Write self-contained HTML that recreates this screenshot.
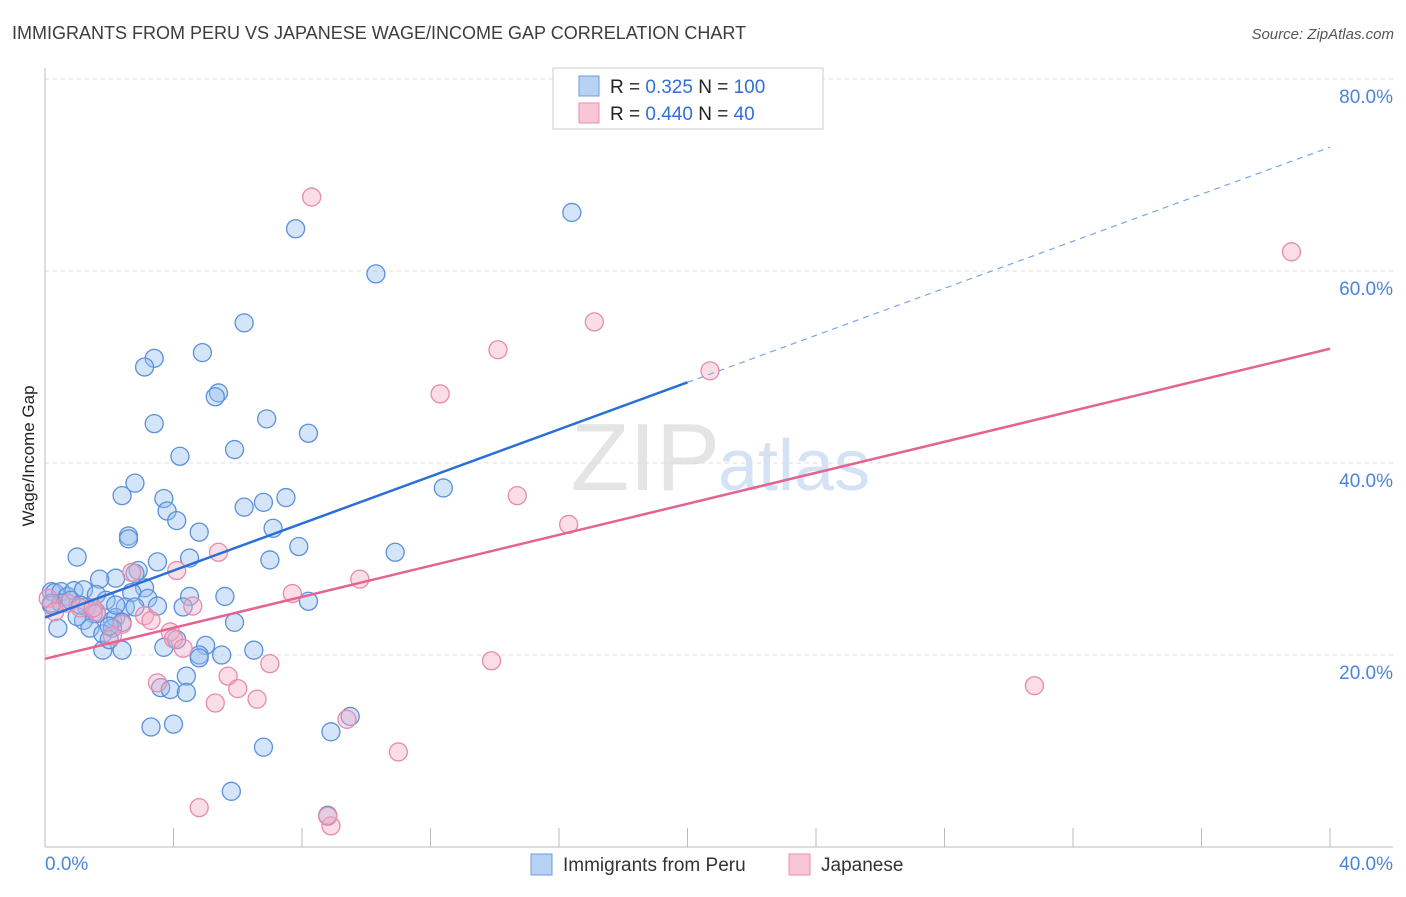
<!DOCTYPE html>
<html><head><meta charset="utf-8"><style>
body{margin:0;background:#fff;font-family:"Liberation Sans",sans-serif;}
svg text{font-family:"Liberation Sans",sans-serif;}
</style></head><body>
<svg id="chart" width="1406" height="892" viewBox="0 0 1406 892">
<text x="12" y="39" font-size="18" fill="#3c3c3c">IMMIGRANTS FROM PERU VS JAPANESE WAGE/INCOME GAP CORRELATION CHART</text>
<text x="1394" y="39" font-size="15" fill="#555" text-anchor="end" font-style="italic">Source: ZipAtlas.com</text>
<text x="720" y="490" font-size="96" fill="#e4e4e4" text-anchor="end" font-family="Liberation Serif">ZIP</text>
<text x="718" y="490" font-size="72" fill="#d3e2f4">atlas</text>
<g id="grid"></g><g id="axes"></g><g id="pts"></g><g id="lines"></g>
<text transform="translate(34,456) rotate(-90)" font-size="17" fill="#222" text-anchor="middle">Wage/Income Gap</text>
<g>
<rect x="553" y="68" width="270" height="61" fill="#fff" stroke="#ccc"/>
<rect x="579" y="76" width="20" height="20" fill="#b8d2f4" stroke="#6a9be0"/>
<rect x="579" y="103" width="20" height="20" fill="#f8c6d6" stroke="#e890b0"/>
<text x="610" y="93" font-size="19" fill="#222">R = <tspan fill="#2f6fd6">0.325</tspan>   N = <tspan fill="#2f6fd6">100</tspan></text>
<text x="610" y="120" font-size="19" fill="#222">R = <tspan fill="#2f6fd6">0.440</tspan>   N = <tspan fill="#2f6fd6">  40</tspan></text>
</g>
<g>
<rect x="531" y="854" width="21" height="21" fill="#b8d2f4" stroke="#6a9be0"/>
<text x="563" y="871" font-size="19" fill="#333">Immigrants from Peru</text>
<rect x="789" y="854" width="21" height="21" fill="#f8c6d6" stroke="#e890b0"/>
<text x="821" y="871" font-size="19" fill="#333">Japanese</text>
</g>
</svg>
<script>
const blueX=[16.4,7.8,10.3,6.2,4.9,3.4,3.1,5.4,5.3,6.9,3.4,8.2,5.9,4.2,2.8,2.4,3.7,7.5,6.8,6.2,3.8,4.1,12.4,2.6,2.6,4.8,7.1,1.0,3.5,4.5,7.0,7.9,10.9,2.9,2.8,2.2,1.7,3.1,2.7,4.5,5.6,8.2,0.2,0.3,0.5,0.7,0.9,1.2,1.6,1.9,3.2,3.5,2.5,2.8,4.3,0.2,0.5,1.3,1.5,1.6,2.1,2.2,2.4,1.2,1.0,0.4,1.4,1.8,2.1,5.9,1.8,2.0,2.4,3.7,4.1,5.0,4.8,5.5,6.5,4.8,3.6,3.9,4.4,4.4,3.3,4.0,9.5,8.9,6.8,5.8,8.8,0.2,0.8,1.1,2.2,2.0];
const blueY=[66.1,64.4,59.7,54.6,51.5,50.9,50.0,47.3,46.9,44.6,44.1,43.1,41.4,40.7,37.9,36.6,36.3,36.4,35.9,35.4,35.0,34.0,37.4,32.4,32.1,32.8,33.2,30.2,29.7,30.1,29.9,31.3,30.7,28.8,28.5,28.0,27.9,27.0,26.5,26.1,26.1,25.6,26.6,26.5,26.6,26.1,26.7,26.8,26.3,25.7,25.9,25.1,25.0,25.0,25.0,25.2,25.4,25.0,24.3,24.3,23.6,23.9,23.4,23.6,24.0,22.8,22.8,22.2,22.8,23.4,20.5,21.6,20.5,20.8,21.6,21.0,20.0,20.0,20.5,19.7,16.6,16.4,17.8,16.1,12.5,12.8,13.6,12.0,10.4,5.8,3.3,25.4,25.7,25.2,25.2,23.0];
const pinkX=[8.3,38.8,17.1,14.1,20.7,12.3,14.7,16.3,5.4,4.1,2.7,9.8,7.7,0.1,0.7,1.1,0.3,1.6,3.1,2.4,2.1,3.9,4.6,4.0,4.3,13.9,7.0,5.7,3.5,6.0,5.3,6.6,30.8,9.4,11.0,4.8,8.9,8.8,1.5,3.3];
const pinkY=[67.7,62.0,54.7,51.8,49.6,47.2,36.6,33.6,30.7,28.8,28.6,27.9,26.4,25.9,25.4,24.9,24.5,24.5,24.1,23.2,22.0,22.4,25.1,21.7,20.7,19.4,19.1,17.8,17.1,16.5,15.0,15.4,16.8,13.3,9.9,4.1,2.2,3.2,24.9,23.6];
const blueFit=[23.9,1.225]; // intercept, slope
const pinkFit=[19.6,0.8075];
const yTicks=[20,40,60,80];
const xTickLabels=["0.0%","40.0%"];
const NS="http://www.w3.org/2000/svg";
const X0=45,X1=1330,Y0=847,YS=9.6;
const sx=v=>X0+(X1-X0)*v/40, sy=v=>Y0-v*YS;
function mk(p,t,a){const e=document.createElementNS(NS,t);for(const k in a)e.setAttribute(k,a[k]);document.getElementById(p).appendChild(e);return e;}
yTicks.forEach(t=>{
 const g=mk('grid','line',{x1:45,x2:1393,y1:sy(t),y2:sy(t),stroke:'#ddd','stroke-dasharray':'4,4'});
 
 
 const l=mk('axes','text',{x:1393,y:sy(t)+24,'font-size':19,fill:'#4a86d8','text-anchor':'end'});
 l.textContent=t.toFixed(1)+'%';
 
 
});
const ax=mk('axes','line',{x1:45,x2:45,y1:68,y2:847,stroke:'#bbb'});


const bx=mk('axes','line',{x1:45,x2:1393,y1:847,y2:847,stroke:'#bbb'});


for(let i=0;i<=10;i++){const t=mk('axes','line',{x1:sx(i*4),x2:sx(i*4),y1:828,y2:847,stroke:'#bbb'});
 
 }
const xl0=mk('axes','text',{x:45,y:870,'font-size':19,fill:'#4a86d8'});xl0.textContent=xTickLabels[0];


const xl1=mk('axes','text',{x:1393,y:870,'font-size':19,fill:'#4a86d8','text-anchor':'end'});xl1.textContent=xTickLabels[1];


blueX.forEach((v,i)=>{const c=mk('pts','circle',{cx:sx(v),cy:sy(blueY[i]),r:9,fill:'rgba(150,190,240,0.4)',stroke:'#5b90dc','stroke-width':1.3});
 
 });
pinkX.forEach((v,i)=>{const c=mk('pts','circle',{cx:sx(v),cy:sy(pinkY[i]),r:9,fill:'rgba(245,170,195,0.4)',stroke:'#e88aab','stroke-width':1.3});
 
 });
const b1=mk('lines','line',{x1:sx(0),y1:sy(blueFit[0]),x2:sx(20),y2:sy(blueFit[0]+20*blueFit[1]),stroke:'#2a6fd8','stroke-width':2.5});


const b2=mk('lines','line',{x1:sx(20),y1:sy(blueFit[0]+20*blueFit[1]),x2:sx(40),y2:sy(blueFit[0]+40*blueFit[1]),stroke:'#7aa6e4','stroke-width':1.2,'stroke-dasharray':'6,5'});


const p1=mk('lines','line',{x1:sx(0),y1:sy(pinkFit[0]),x2:sx(40),y2:sy(pinkFit[0]+40*pinkFit[1]),stroke:'#e5648f','stroke-width':2.5});


</script>
</body></html>
